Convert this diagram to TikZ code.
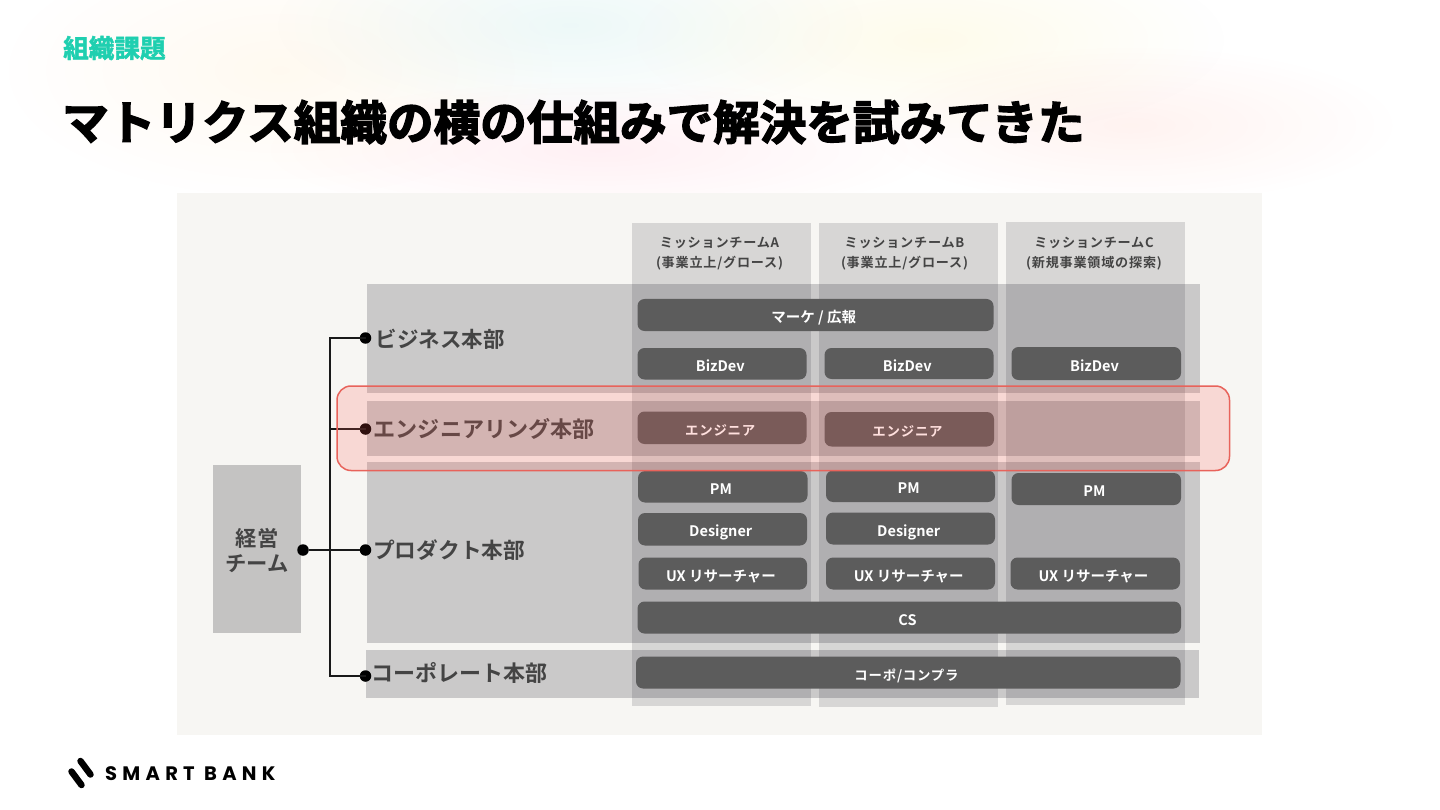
\documentclass[tikz,border=0pt]{standalone}
\usepackage{fontspec}
\usetikzlibrary{fadings}
\setmainfont{Noto Sans CJK JP}[BoldFont={Noto Sans CJK JP Bold}]
\newfontfamily\titlefont{Noto Sans CJK JP Bold}[FakeBold=3]
\newfontfamily\subfont{Noto Sans CJK JP Bold}[FakeBold=1.8]
\newfontfamily\labelfont{Noto Sans CJK JP Bold}
\newfontfamily\headfont{Noto Sans CJK JP Bold}[LetterSpace=6]
\newfontfamily\logofont{Poppins Bold}[LetterSpace=27]
\definecolor{panelbg}{HTML}{F7F6F3}
\definecolor{darkbox}{HTML}{5C5C5C}
\definecolor{labelgray}{HTML}{444444}
\definecolor{teal}{HTML}{1FCFB0}
\definecolor{hlfill}{HTML}{FF5B50}
\definecolor{hlline}{HTML}{E8635B}
\definecolor{bossbox}{HTML}{C4C3C2}
\definecolor{bandtint}{HTML}{00000F}
\tikzfading[name=blob, inner color=transparent!0, outer color=transparent!100]
\tikzset{
  teambox/.style={fill=darkbox, rounded corners=7pt, inner sep=0pt, outer sep=0pt, text=white,
    font=\labelfont\fontsize{14.5}{14.5}\selectfont, text height=15pt, text depth=0pt, align=center},
  smallkana/.style={font=\headfont\fontsize{13.4}{13.4}\selectfont},
  colband/.style={fill=bandtint, fill opacity=.13, draw=none},
  rowband/.style={fill=bandtint, fill opacity=.18, draw=none},
  rowlabel/.style={anchor=west, inner sep=0pt, text=labelgray, text height=19pt, text depth=2.6pt},
  colhead/.style={inner sep=0pt, text=labelgray, font=\headfont\fontsize{13.1}{20}\selectfont, align=center},
  dotnode/.style={circle, fill=black, inner sep=0pt, minimum size=11.5pt},
  wire/.style={draw=black!90, line width=1.5pt},
}
% name x1 y1 x2 y2 text extra
\newcommand{\tbox}[7][]{%
  \pgfmathsetmacro{\bcx}{(#3+#5)/2}\pgfmathsetmacro{\bcy}{(#4+#6)/2}%
  \pgfmathsetmacro{\bw}{#5-#3}\pgfmathsetmacro{\bh}{#6-#4}%
  \node[teambox,minimum width=\bw pt,minimum height=\bh pt,#1] (#2) at (\bcx,\bcy) {#7\hspace*{3.5pt}};}
\begin{document}
\begin{tikzpicture}[x=1pt,y=-1pt]
\useasboundingbox (0,0) rectangle (1440,810);
\fill[white] (0,0) rectangle (1440,810);
% soft background blobs
\fill[orange!70!yellow, opacity=.06, path fading=blob] (280,70) ellipse (280 and 130);
\fill[cyan!50!green, opacity=.07, path fading=blob] (570,25) ellipse (300 and 100);
\fill[yellow!70!orange, opacity=.08, path fading=blob] (930,40) ellipse (300 and 100);
\fill[red!70!magenta, opacity=.06, path fading=blob] (600,150) ellipse (340 and 70);
\fill[red!60!orange, opacity=.06, path fading=blob] (1130,125) ellipse (270 and 80);
% panel
\fill[panelbg] (177,193) rectangle (1262,735);
% columns
\fill[colband] (631.5,223) rectangle (811,706);
\fill[colband] (819,223) rectangle (998,707);
\fill[colband] (1005.5,222) rectangle (1184.5,705);
% rows
\fill[rowband] (366.5,284) rectangle (1200,392.5);
\fill[rowband] (366.5,401) rectangle (1200,456);
\fill[rowband] (366.5,462) rectangle (1200,643);
\fill[rowband] (365.5,650) rectangle (1198.5,697.5);
% column heads
\node[colhead] (headA) at (719.5,253.5) {ミッションチームA\\(事業立上/グロース)};
\node[colhead] (headB) at (904.5,253.5) {ミッションチームB\\(事業立上/グロース)};
\node[colhead] (headC) at (1094,253.5) {ミッションチームC\\(新規事業領域の探索)};
% team boxes
\tbox{marke}{637.5}{299}{993.5}{331}{マーケ / 広報}
\tbox{bizA}{637.5}{348}{806.5}{379.5}{BizDev}
\tbox{bizB}{824.5}{348}{993.5}{379}{BizDev}
\tbox{bizC}{1011.5}{347}{1181}{380}{BizDev}
\tbox[smallkana]{engA}{637.5}{411.5}{806.5}{444}{エンジニア}
\tbox[smallkana]{engB}{824.5}{412}{994}{446.5}{エンジニア}
\tbox{pmA}{638}{471}{807.5}{502.5}{PM}
\tbox{pmB}{826}{470.5}{995}{502}{PM}
\tbox{pmC}{1011.5}{473}{1181}{505}{PM}
\tbox{desA}{638}{513}{807}{545.5}{Designer}
\tbox{desB}{826}{512.5}{995}{544.5}{Designer}
\tbox{uxA}{638.5}{557.5}{807}{589.5}{UX リサーチャー}
\tbox{uxB}{826}{557.5}{995}{589.5}{UX リサーチャー}
\tbox{uxC}{1010.5}{557.5}{1180}{589.5}{UX リサーチャー}
\tbox{cs}{637.5}{601.5}{1181}{633.5}{CS}
\tbox[smallkana]{corpbox}{636}{656.5}{1180.5}{688.5}{コーポ/コンプラ}
% boss box
\node[fill=bossbox, minimum width=88pt, minimum height=168pt, inner sep=0pt, outer sep=0pt] (boss) at (257,549) {};
\node[inner sep=0pt, text=labelgray, font=\labelfont\fontsize{21.3}{25}\selectfont, align=center] (bosslabel) at (257,551) {経営\\チーム};
% row labels
\node[rowlabel, font=\labelfont\fontsize{21.5}{21.5}\selectfont] (lblbiz) at (375.5,339) {ビジネス本部};
\node[rowlabel, font=\labelfont\fontsize{22.1}{22}\selectfont] (lbleng) at (373.5,429) {エンジニアリング本部};
\node[rowlabel, font=\labelfont\fontsize{21.7}{22}\selectfont] (lblprod) at (373,550) {プロダクト本部};
\node[rowlabel, font=\labelfont\fontsize{22}{22}\selectfont] (lblcorp) at (371.5,673) {コーポレート本部};
% connectors
\node[dotnode] (dotboss) at (303,550) {};
\node[dotnode] (dotbiz) at (365.5,338) {};
\node[dotnode] (doteng) at (365.5,429) {};
\node[dotnode] (dotprod) at (365.5,550) {};
\node[dotnode] (dotcorp) at (365.5,676) {};
\coordinate (junction) at (330,550);
\draw[wire] (dotboss) -- (dotprod);
\draw[wire] (dotbiz.center) -| (junction);
\draw[wire] (doteng.center) -- (doteng.center -| junction);
\draw[wire] (dotcorp.center) -| (junction);
% highlight
\draw[rounded corners=14pt, fill=hlfill, fill opacity=.19, draw=hlline, line width=1.5pt] (337,386) rectangle (1229.5,470.5);
% footer logo
\coordinate (barAa) at (71.5,771.5); \coordinate (barAb) at (81.5,785);
\coordinate (barBa) at (80.5,761); \coordinate (barBb) at (90.5,774.5);
\draw[black, line width=6.5pt, line cap=round] (barAa) -- (barAb);
\draw[black, line width=6.5pt, line cap=round] (barBa) -- (barBb);
\node[anchor=west, inner sep=0pt, text=black, font=\logofont\fontsize{19.5}{19.5}\selectfont] (logo) at (105,774) {SMART BANK};
% titles
\node[anchor=west, inner sep=0pt, text=teal, font=\subfont\fontsize{25.6}{25.6}\selectfont, text height=22.5pt, text depth=3.1pt] (kicker) at (63,48) {組織課題};
\node[anchor=west, inner sep=0pt, text=black, font=\titlefont\fontsize{46.6}{46.6}\selectfont, text height=40.9pt, text depth=5.6pt] (title) at (62,122) {マトリクス組織の横の仕組みで解決を試みてきた};
\end{tikzpicture}
\end{document}
